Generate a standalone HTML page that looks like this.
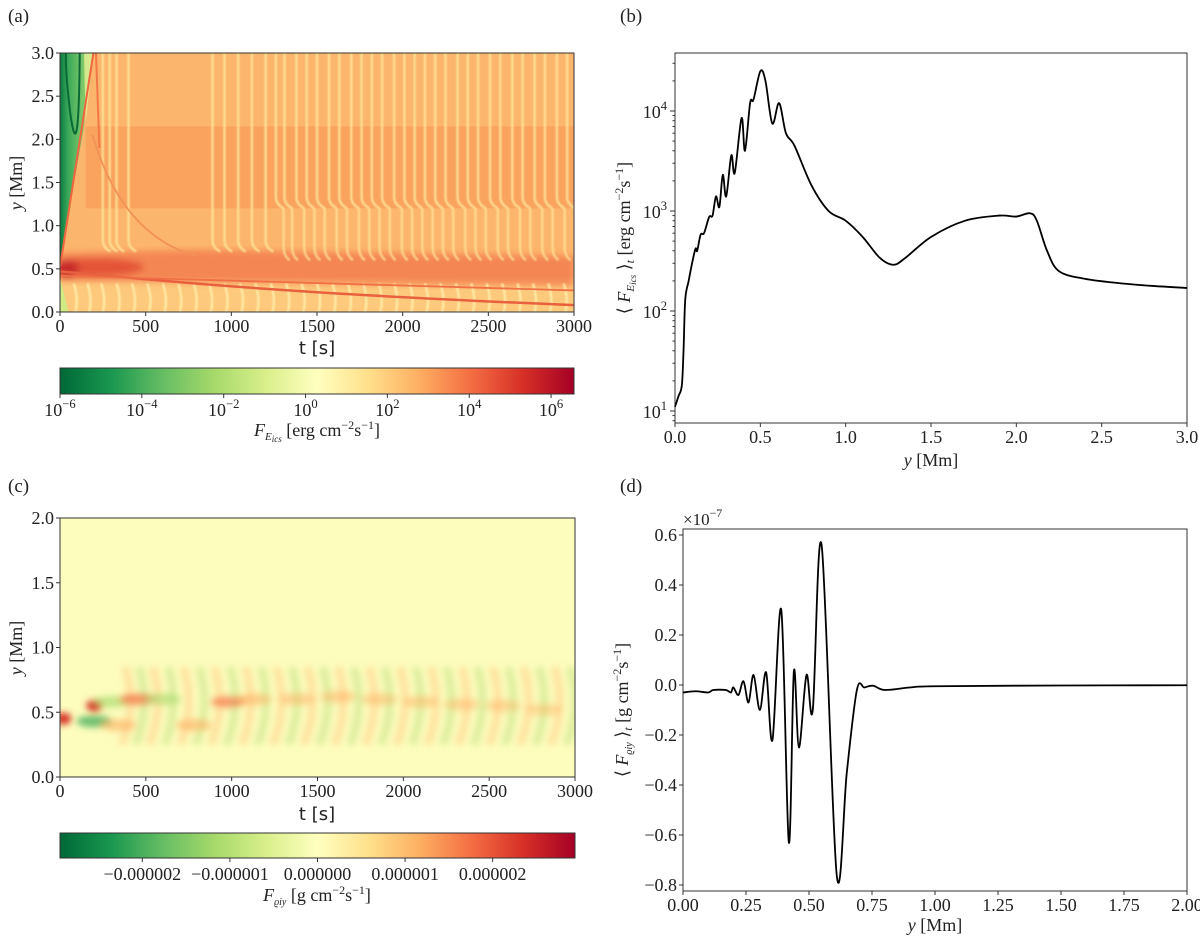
<!DOCTYPE html>
<html><head><meta charset="utf-8"><style>
body{margin:0;background:#fff}
svg text{font-family:"Liberation Serif","DejaVu Serif",serif;fill:#222}
.sans{font-family:"DejaVu Sans","Liberation Sans",sans-serif}
</style></head><body>
<svg id="fig" width="1200" height="937" viewBox="0 0 1200 937" xmlns="http://www.w3.org/2000/svg">
<defs>
<linearGradient id="cmap" x1="0" x2="1" y1="0" y2="0">
<stop offset="0" stop-color="#006837"/><stop offset=".1" stop-color="#1a9850"/><stop offset=".2" stop-color="#66bd63"/><stop offset=".3" stop-color="#a6d96a"/><stop offset=".4" stop-color="#d9ef8b"/><stop offset=".5" stop-color="#ffffbf"/><stop offset=".6" stop-color="#fee08b"/><stop offset=".7" stop-color="#fdae61"/><stop offset=".8" stop-color="#f46d43"/><stop offset=".9" stop-color="#d73027"/><stop offset="1" stop-color="#a50026"/>
</linearGradient>
<linearGradient id="greenG" x1="0" x2="1" y1="0" y2="0">
<stop offset="0" stop-color="#0a7a40"/><stop offset=".25" stop-color="#3aa95a"/><stop offset="1" stop-color="#a8da72"/>
</linearGradient>
<clipPath id="clipA"><rect x="60" y="53" width="514" height="259"/></clipPath>
<clipPath id="clipC"><rect x="60" y="518" width="515" height="259"/></clipPath>
<filter id="blur1"><feGaussianBlur stdDeviation="0.8"/></filter>
<filter id="blur2"><feGaussianBlur stdDeviation="1.3"/></filter>
<filter id="blur4"><feGaussianBlur stdDeviation="3.5"/></filter>
</defs>
<g id="pa"></g>
<g id="pb"></g>
<g id="pc"></g>
<g id="pd"></g>
</svg>
<script>
// ---------- data ----------
const aTicksX = [0,500,1000,1500,2000,2500,3000];
const aTicksY = [0.0,0.5,1.0,1.5,2.0,2.5,3.0];
const aStripeT = [250,290,330,400,890,960,1040,1120,1200,1260,1310,1380,1440,1500,1570,1630,1700,1760,1820,1880,1950,2010,2070,2130,2190,2250,2320,2380,2440,2510,2570,2640,2700,2770,2830,2900,2960];
const aLowStripeT = [80,160,240,330,420,510,600,690,780,870,960,1050,1140,1230,1320,1410,1500,1590,1680,1770,1860,1950,2040,2130,2220,2310,2400,2490,2580,2670,2760,2850,2940];
const cbAExp = [-6,-4,-2,0,2,4,6];
const cbARange = [-6,6.56];
const bX = [0,0.02,0.04,0.05,0.06,0.08,0.1,0.12,0.13,0.15,0.17,0.2,0.22,0.24,0.26,0.28,0.3,0.33,0.35,0.39,0.41,0.44,0.46,0.5,0.53,0.57,0.61,0.65,0.7,0.8,0.9,1.0,1.1,1.2,1.28,1.35,1.5,1.7,1.9,2.0,2.08,2.12,2.18,2.25,2.4,2.6,2.8,3.0];
const bY = [11,14,18,40,130,200,300,420,400,580,600,870,900,1400,1100,2300,1400,3600,2400,8500,4000,12000,13000,25000,20000,7500,12000,6000,4500,1800,1000,800,550,340,290,340,550,800,900,880,950,800,400,250,210,190,178,170];
const bTicksX = [0.0,0.5,1.0,1.5,2.0,2.5,3.0];
const bTicksExp = [1,2,3,4];
const cTicksX = [0,500,1000,1500,2000,2500,3000];
const cTicksY = [0.0,0.5,1.0,1.5,2.0];
const cBlobT = [200,20,200,300,450,340,600,780,980,1130,1380,1620,1860,2100,2340,2580,2820];
const cBlobY = [0.55,0.45,0.43,0.58,0.6,0.4,0.6,0.4,0.58,0.6,0.6,0.62,0.6,0.58,0.56,0.55,0.52];
const cBlobV = [2.6,2.6,-1.8,-1.2,1.4,1.0,-1.0,1.0,1.2,0.8,0.6,0.6,0.5,0.5,0.4,0.35,0.3];
const cbCTicks = [-0.000002,-0.000001,0,0.000001,0.000002];
const cbCRange = [-0.00000294,0.00000294];
const dX = [0,0.05,0.1,0.12,0.17,0.19,0.2,0.22,0.24,0.26,0.28,0.305,0.33,0.355,0.39,0.42,0.44,0.46,0.49,0.515,0.55,0.61,0.65,0.69,0.72,0.755,0.8,0.9,1.0,1.5,2.0];
const dY = [-0.03,-0.025,-0.03,-0.02,-0.02,-0.03,-0.01,-0.04,0.015,-0.07,0.04,-0.1,0.05,-0.22,0.3,-0.63,0.055,-0.25,0.04,-0.1,0.56,-0.76,-0.35,-0.02,-0.01,-0.003,-0.02,-0.01,-0.005,-0.002,-0.001];
const dTicksX = [0,0.25,0.5,0.75,1.0,1.25,1.5,1.75,2.0];
const dTicksY = [-0.8,-0.6,-0.4,-0.2,0.0,0.2,0.4,0.6];

// ---------- helpers ----------
const NS='http://www.w3.org/2000/svg';
const FS=18;
function mk(parent,tag,attrs,txt){const e=document.createElementNS(NS,tag);for(const k in attrs)e.setAttribute(k,attrs[k]);if(txt!==undefined)e.textContent=txt;parent.appendChild(e);return e;}
function lin(d0,d1,r0,r1){return v=>r0+(v-d0)/(d1-d0)*(r1-r0);}
function sup(parent,x,y,base,exp,anchor,size){
  size=size||FS;
  const t=mk(parent,'text',{x:x,y:y,'text-anchor':anchor||'middle','font-size':size});
  const a=document.createElementNS(NS,'tspan');a.textContent=base;t.appendChild(a);
  const b=document.createElementNS(NS,'tspan');b.setAttribute('dy','-8');b.setAttribute('font-size',size*0.7);b.textContent=exp;t.appendChild(b);
  return t;
}
function catmull(pts){
  let d='M'+pts[0][0]+','+pts[0][1];
  for(let i=0;i<pts.length-1;i++){
    const p0=pts[i-1]||pts[i],p1=pts[i],p2=pts[i+1],p3=pts[i+2]||p2;
    const c1=[p1[0]+(p2[0]-p0[0])/6,p1[1]+(p2[1]-p0[1])/6];
    const c2=[p2[0]-(p3[0]-p1[0])/6,p2[1]-(p3[1]-p1[1])/6];
    d+=' C'+c1[0].toFixed(2)+','+c1[1].toFixed(2)+' '+c2[0].toFixed(2)+','+c2[1].toFixed(2)+' '+p2[0].toFixed(2)+','+p2[1].toFixed(2);
  }
  return d;
}
function frame(g,x0,y0,x1,y1,name){
  const r=mk(g,'rect',{x:x0,y:y0,width:x1-x0,height:y1-y0,fill:'none',stroke:'#333','stroke-width':1});
  
  
}
function xticks(g,xs,y,vals,fmt,name){
  vals.forEach(v=>{mk(g,'line',{x1:xs(v),x2:xs(v),y1:y,y2:y+4,stroke:'#333'});
    const t=mk(g,'text',{x:xs(v),y:y+20,'text-anchor':'middle','font-size':FS},fmt(v));
    
    });
}
function yticks(g,ys,x,vals,fmt,name){
  vals.forEach(v=>{mk(g,'line',{x1:x-4,x2:x,y1:ys(v),y2:ys(v),stroke:'#333'});
    const t=mk(g,'text',{x:x-6,y:ys(v)+6,'text-anchor':'end','font-size':FS},fmt(v));
    
    });
}
function neg(s){return s.replace('-','−');}

// ---------- panel (a) ----------
(function(){
  const g=document.getElementById('pa');
  const X0=60,X1=574,YT=53,YB=312;
  const xs=lin(0,3000,X0,X1), ys=lin(0,3,YB,YT);
  mk(g,'text',{x:8,y:22,'font-size':19},'(a)');
  const h=mk(g,'g',{'clip-path':'url(#clipA)'});
  mk(h,'rect',{x:X0,y:YT,width:X1-X0,height:YB-YT,fill:'#fcb56c'});
  mk(h,'rect',{x:xs(150),y:ys(2.15),width:X1-xs(150),height:ys(1.2)-ys(2.15),fill:'#f89d5a',opacity:.75});
  mk(h,'rect',{x:X0,y:ys(0.4),width:X1-X0,height:ys(0)-ys(0.4),fill:'#fdc97c'});
  const band=mk(h,'g',{filter:'url(#blur4)'});
  mk(band,'path',{d:`M${xs(0)},${ys(0.68)} L${xs(800)},${ys(0.72)} L${xs(3000)},${ys(0.65)} L${xs(3000)},${ys(0.3)} L${xs(0)},${ys(0.36)} Z`,fill:'#f37a4c',opacity:.8});
  mk(band,'ellipse',{cx:xs(200),cy:ys(0.52),rx:50,ry:9,fill:'#dd3d2c',opacity:.7});
  mk(band,'ellipse',{cx:xs(40),cy:ys(0.5),rx:12,ry:9,fill:'#c0262a',opacity:.8});
  const st=mk(h,'g',{filter:'url(#blur1)'});
  aStripeT.forEach(t=>{
    const k=t>1200?1.25:0.75;
    const l=mk(st,'path',{d:`M${xs(t)},${ys(3)} L${xs(t)},${ys(k+0.08)} Q${xs(t)},${ys(k)} ${xs(t+45)},${ys(k-0.05)}`,stroke:'#fee79a','stroke-width':2.5,fill:'none',opacity:.8});
    
    
    if(t>1200){const l2=mk(st,'path',{d:`M${xs(t+45)},${ys(1.2)} L${xs(t+45)},${ys(0.75)} Q${xs(t+45)},${ys(0.65)} ${xs(t+80)},${ys(0.6)}`,stroke:'#fee79a','stroke-width':2.5,fill:'none',opacity:.7});
      
      }
  });
  aLowStripeT.forEach(t=>{
    const l=mk(st,'path',{d:`M${xs(t)},${ys(0.33)} Q${xs(t+30)},${ys(0.15)} ${xs(t+10)},${ys(0)}`,stroke:'#fff0ac','stroke-width':2.5,fill:'none',opacity:.8});
    
    
  });
  mk(h,'path',{d:`M${xs(0)},${ys(0.47)} C${xs(800)},${ys(0.32)} ${xs(1500)},${ys(0.2)} ${xs(3000)},${ys(0.08)}`,stroke:'#e9603e','stroke-width':2.5,fill:'none'});
  mk(h,'path',{d:`M${xs(0)},${ys(0.42)} C${xs(1000)},${ys(0.36)} ${xs(2000)},${ys(0.3)} ${xs(3000)},${ys(0.25)}`,stroke:'#ef7046','stroke-width':1.8,fill:'none'});
  mk(h,'path',{d:`M${xs(0)},${ys(0.58)} L${xs(0)},${ys(3)} L${xs(190)},${ys(3)} L${xs(150)},${ys(2.4)} L${xs(140)},${ys(2.15)} Z`,fill:'url(#greenG)'});
  mk(h,'path',{d:`M${xs(140)},${ys(3)} L${xs(195)},${ys(3)} L${xs(150)},${ys(2.2)} Z`,fill:'#e6f094',opacity:.8});
  mk(h,'path',{d:`M${xs(0)},${ys(0.4)} L${xs(0)},${ys(0)} L${xs(50)},${ys(0)} Z`,fill:'#d0ea84'});
  mk(h,'path',{d:`M${xs(115)},${ys(3)} Q${xs(110)},${ys(1.6)} ${xs(60)},${ys(2.3)} Q${xs(30)},${ys(2.8)} ${xs(35)},${ys(3)}`,stroke:'#0a6a36','stroke-width':2,fill:'none'});
  mk(h,'path',{d:`M${xs(0)},${ys(0.52)} L${xs(195)},${ys(3)}`,stroke:'#f06440','stroke-width':2,fill:'none'});
  mk(h,'path',{d:`M${xs(190)},${ys(2.05)} C${xs(300)},${ys(1.3)} ${xs(500)},${ys(0.8)} ${xs(800)},${ys(0.65)}`,stroke:'#f39258','stroke-width':1.8,fill:'none'});
  mk(h,'path',{d:`M${xs(210)},${ys(3)} L${xs(230)},${ys(1.9)}`,stroke:'#f27848','stroke-width':2,fill:'none'});
  frame(g,X0,YT,X1,YB,'heatmap-a-frame');
  xticks(g,xs,YB,aTicksX,v=>String(v),'x-tick-label');
  yticks(g,ys,X0,aTicksY,v=>v.toFixed(1),'y-tick-label');
  const xl=mk(g,'text',{x:317,y:354,'text-anchor':'middle','font-size':18,class:'sans'},'t [s]');
  
  const yl=mk(g,'text',{x:0,y:0,'text-anchor':'middle','font-size':18,transform:'translate(22,183) rotate(-90)'},'');
  yl.innerHTML='<tspan font-style="italic">y</tspan> [Mm]';
  
  const cb=mk(g,'rect',{x:60,y:368,width:514,height:26,fill:'url(#cmap)',stroke:'#333'});
  
  const cs=lin(cbARange[0],cbARange[1],60,574);
  cbAExp.forEach(e=>{mk(g,'line',{x1:cs(e),x2:cs(e),y1:394,y2:398,stroke:'#333'});
    const t=sup(g,cs(e),416,'10',e<0?'−'+(-e):String(e));
    });
  const cl=mk(g,'text',{x:317,y:436,'text-anchor':'middle','font-size':18});
  cl.innerHTML='<tspan font-style="italic">F</tspan><tspan font-style="italic" font-size="11" dy="4">E</tspan><tspan font-style="italic" font-size="9" dy="2">ics</tspan><tspan dy="-6"> [erg cm</tspan><tspan font-size="12" dy="-7">−2</tspan><tspan dy="7">s</tspan><tspan font-size="12" dy="-7">−1</tspan><tspan dy="7">]</tspan>';
  
})();

// ---------- panel (b) ----------
(function(){
  const g=document.getElementById('pb');
  const X0=675,X1=1187,YT=53,YB=423;
  const xs=lin(0,3,X0,X1);
  const ys=v=>411-(Math.log10(v)-1)*100;
  mk(g,'text',{x:620,y:22,'font-size':19},'(b)');
  frame(g,X0,YT,X1,YB,'plot-b-frame');
  const pts=bX.map((x,i)=>[xs(x),ys(bY[i])]);
  const p=mk(g,'path',{d:catmull(pts),fill:'none',stroke:'#000','stroke-width':1.8});
  
  xticks(g,xs,YB,bTicksX,v=>v.toFixed(1),'x-tick-label');
  bTicksExp.forEach(e=>{const y=ys(Math.pow(10,e));mk(g,'line',{x1:X0-5,x2:X0,y1:y,y2:y,stroke:'#333'});
    const t=sup(g,X0-8,y+7,'10',String(e),'end');
    
    for(let m=2;m<10;m++){const yy=ys(m*Math.pow(10,e));if(yy>YT)mk(g,'line',{x1:X0-2.5,x2:X0,y1:yy,y2:yy,stroke:'#333'});}
  });
  for(let m=8;m<10;m++)mk(g,'line',{x1:X0-2.5,x2:X0,y1:ys(m),y2:ys(m),stroke:'#333'});
  const xl=mk(g,'text',{x:931,y:466,'text-anchor':'middle','font-size':18});
  xl.innerHTML='<tspan font-style="italic">y</tspan> [Mm]';
  
  const yl=mk(g,'text',{x:0,y:0,'text-anchor':'middle','font-size':18,transform:'translate(630,238) rotate(-90)'});
  yl.innerHTML='⟨ <tspan font-style="italic">F</tspan><tspan font-style="italic" font-size="11" dy="4">E</tspan><tspan font-style="italic" font-size="9" dy="2">ics</tspan><tspan dy="-6"> ⟩</tspan><tspan font-style="italic" font-size="12" dy="4">t</tspan><tspan dy="-4"> [erg cm</tspan><tspan font-size="12" dy="-7">−2</tspan><tspan dy="7">s</tspan><tspan font-size="12" dy="-7">−1</tspan><tspan dy="7">]</tspan>';
  
})();

// ---------- panel (c) ----------
(function(){
  const g=document.getElementById('pc');
  const X0=60,X1=575,YT=518,YB=777;
  const xs=lin(0,3000,X0,X1), ys=lin(0,2,YB,YT);
  mk(g,'text',{x:8,y:492,'font-size':19},'(c)');
  const h=mk(g,'g',{'clip-path':'url(#clipC)'});
  mk(h,'rect',{x:X0,y:YT,width:X1-X0,height:YB-YT,fill:'#fdfdbd'});
  const bl=mk(h,'g',{filter:'url(#blur4)'});
  for(let i=0;i<aLowStripeT.length;i++){
    const t=aLowStripeT[i]+300; if(t>3000)break;
    const col=i%2?'#cfe68e':'#fdd592';
    const s=mk(bl,'path',{d:`M${xs(t)},${ys(0.85)} Q${xs(t+70)},${ys(0.55)} ${xs(t-20)},${ys(0.25)}`,stroke:col,'stroke-width':8,fill:'none',opacity:.7});
    
  }
  cBlobT.forEach((t,i)=>{
    const v=cBlobV[i];
    const col=v>0?(v>2?'#d73027':(v>1?'#f46d43':'#fdae61')):(v<-1.5?'#4bb05c':'#a6d96a');
    const e=mk(bl,'ellipse',{cx:xs(t),cy:ys(cBlobY[i]),rx:i<2?8:18,ry:6,fill:col,opacity:Math.min(1,0.35+Math.abs(v)*0.25)});
    
  });
  frame(g,X0,YT,X1,YB,'heatmap-c-frame');
  xticks(g,xs,YB,cTicksX,v=>String(v),'x-tick-label');
  yticks(g,ys,X0,cTicksY,v=>v.toFixed(1),'y-tick-label');
  const xl=mk(g,'text',{x:317,y:820,'text-anchor':'middle','font-size':18,class:'sans'},'t [s]');
  
  const yl=mk(g,'text',{x:0,y:0,'text-anchor':'middle','font-size':18,transform:'translate(22,648) rotate(-90)'});
  yl.innerHTML='<tspan font-style="italic">y</tspan> [Mm]';
  
  const cb=mk(g,'rect',{x:60,y:833,width:515,height:25,fill:'url(#cmap)',stroke:'#333'});
  
  const cs=lin(cbCRange[0],cbCRange[1],60,575);
  cbCTicks.forEach(v=>{mk(g,'line',{x1:cs(v),x2:cs(v),y1:858,y2:862,stroke:'#333'});
    const t=mk(g,'text',{x:cs(v),y:880,'text-anchor':'middle','font-size':FS},neg(v.toFixed(6)));
    });
  const cl=mk(g,'text',{x:317,y:901,'text-anchor':'middle','font-size':18});
  cl.innerHTML='<tspan font-style="italic">F</tspan><tspan font-style="italic" font-size="10" dy="4">ϱiy</tspan><tspan dy="-4"> [g cm</tspan><tspan font-size="12" dy="-7">−2</tspan><tspan dy="7">s</tspan><tspan font-size="12" dy="-7">−1</tspan><tspan dy="7">]</tspan>';
  
})();

// ---------- panel (d) ----------
(function(){
  const g=document.getElementById('pd');
  const X0=683,X1=1187,YT=529,YB=891;
  const xs=lin(0,2,X0,X1), ys=lin(0,0.2,685,635);
  mk(g,'text',{x:620,y:492,'font-size':19},'(d)');
  frame(g,X0,YT,X1,YB,'plot-d-frame');
  const pts=dX.map((x,i)=>[xs(x),ys(dY[i])]);
  const p=mk(g,'path',{d:catmull(pts),fill:'none',stroke:'#000','stroke-width':1.8});
  
  xticks(g,xs,YB,dTicksX,v=>v.toFixed(2),'x-tick-label');
  yticks(g,ys,X0,dTicksY,v=>neg(v.toFixed(1)),'y-tick-label');
  const m=sup(g,X0,525,'×10','−7','start',17);
  
  const xl=mk(g,'text',{x:935,y:931,'text-anchor':'middle','font-size':18});
  xl.innerHTML='<tspan font-style="italic">y</tspan> [Mm]';
  
  const yl=mk(g,'text',{x:0,y:0,'text-anchor':'middle','font-size':18,transform:'translate(628,710) rotate(-90)'});
  yl.innerHTML='⟨ <tspan font-style="italic">F</tspan><tspan font-style="italic" font-size="10" dy="4">ϱiy</tspan><tspan dy="-4"> ⟩</tspan><tspan font-style="italic" font-size="12" dy="4">t</tspan><tspan dy="-4"> [g cm</tspan><tspan font-size="12" dy="-7">−2</tspan><tspan dy="7">s</tspan><tspan font-size="12" dy="-7">−1</tspan><tspan dy="7">]</tspan>';
  
})();
</script>
</body></html>
